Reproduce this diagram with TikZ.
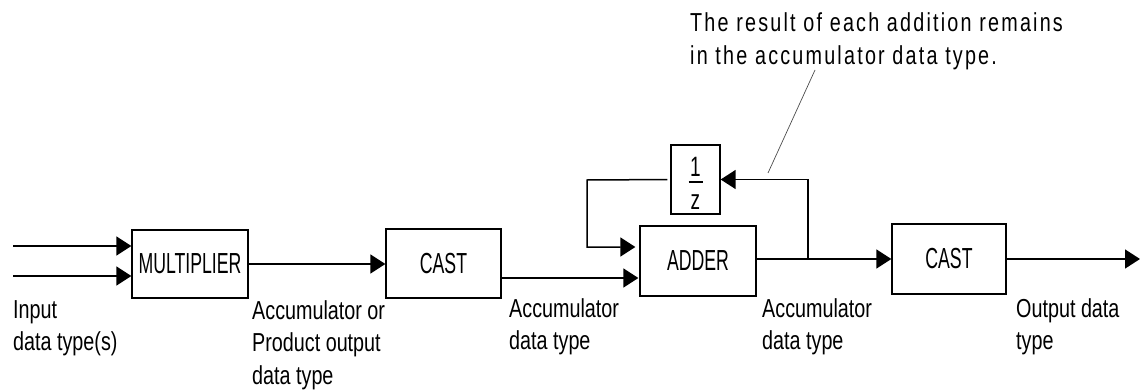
\documentclass[tikz,border=0pt]{standalone}
\usepackage{fontspec}
\setmainfont[FakeStretch=0.68]{Liberation Sans}
\newfontfamily\boxfont[FakeStretch=0.61]{Liberation Sans}
\newfontfamily\lblfont[FakeStretch=0.76]{Liberation Sans}
\newfontfamily\notefont[FakeStretch=0.76,LetterSpace=8.5]{Liberation Sans}
\usetikzlibrary{arrows.meta}
\tikzset{
  blk/.style={draw, line width=1.3pt, inner sep=0pt, font=\boxfont\fontsize{29}{32}\selectfont},
  arr/.style={line width=1.5pt, -{Triangle[length=15pt,width=19pt]}},
  wire/.style={line width=1.5pt},
  lbl/.style={anchor=north west, inner sep=0pt, align=left, font=\lblfont\fontsize{26}{32.5}\selectfont},
  leader/.style={line width=0.7pt, black!70}
}
\begin{document}
\begin{tikzpicture}[x=1pt,y=-1pt]
\useasboundingbox (0,0) rectangle (1141,391);
% blocks
\node[blk, minimum width=116pt, minimum height=68pt] (mult) at (190,264) {MULTIPLIER};
\node[blk, minimum width=115pt, minimum height=69pt] (cast1) at (443.5,263.5) {CAST};
\node[blk, minimum width=116pt, minimum height=70pt] (adder) at (698,261) {ADDER};
\node[blk, minimum width=49pt, minimum height=69pt, font=\fontsize{28}{30}\selectfont] (delay) at (695.5,179.5)
  {\vbox{\kern7.5pt\hbox to 14pt{\hfil 1\hfil}\kern5pt\hrule height 1.5pt\kern11.5pt\hbox to 14pt{\hfil z\hfil}}};
\node[blk, minimum width=114pt, minimum height=70pt] (cast2) at (949,259) {CAST};
% coordinates
\coordinate (in1) at (13,246);
\coordinate (in2) at (13,276);
\coordinate (fbl) at (587,180);
\coordinate (br) at (808,259);
\coordinate (out) at (1140,259);
% connectors
\draw[arr] (in1) -- (in1 -| mult.west);
\draw[arr] (in2) -- (in2 -| mult.west);
\draw[arr] (mult.east) -- (mult.east -| cast1.west);
\draw[arr, shorten >=1pt] (cast1.east |- 0,278) -- (adder.west |- 0,278);
\draw[arr, shorten <=3pt, shorten >=4pt] (delay.west) -- (fbl) -- (fbl |- 0,247) -- (adder.west |- 0,247);
\draw[wire] (adder.east |- br) -- (br);
\draw[arr] (br) -- (cast2.west);
\draw[arr] (br) -- (br |- delay.east) -- (delay.east);
\draw[arr] (cast2.east) -- (out);
% annotation
\node[lbl, font=\notefont\fontsize{26}{33}\selectfont] (note) at (690,12) {The result of each addition remains\\in the accumulator data type.};
\coordinate (ldA) at (815,70);
\coordinate (ldB) at (768,173);
\draw[leader] (ldA) -- (ldB);
% labels
\node[lbl] (linput) at (13,300) {Input\\data type(s)};
\node[lbl] (lprod) at (252,300) {Accumulator or\\Product output\\data type};
\node[lbl] (lacc1) at (509,298) {Accumulator\\data type};
\node[lbl] (lacc2) at (762,298) {Accumulator\\data type};
\node[lbl] (lout) at (1016,298) {Output data\\type};
\end{tikzpicture}
\end{document}
